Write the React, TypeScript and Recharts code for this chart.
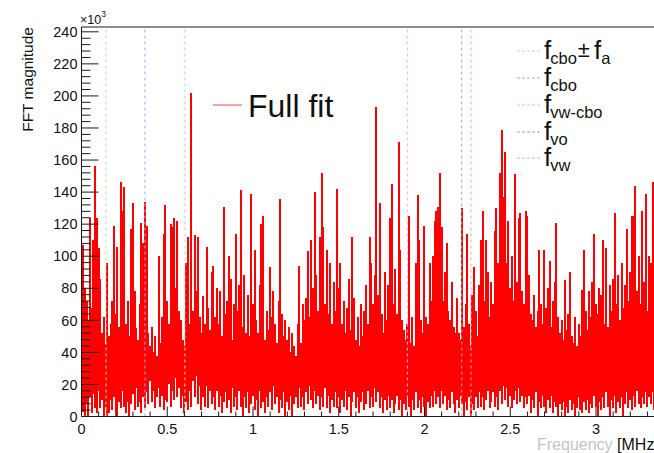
import React from 'react';
import { ComposedChart, Bar, XAxis, YAxis, ReferenceLine } from 'recharts';

// FFT magnitude (x10^3): per 0.01 MHz column, upper and lower extent of the trace
const HI = [
  88, 107, 80, 72, 60, 124, 68, 110, 156, 124,
  105, 86, 52, 62, 45, 96, 50, 58, 72, 119,
  64, 106, 56, 146, 128, 143, 58, 72, 50, 117,
  133, 78, 55, 48, 70, 121, 108, 134, 119, 52,
  44, 56, 40, 50, 38, 100, 46, 62, 114, 132,
  72, 58, 120, 118, 124, 80, 122, 66, 60, 48,
  44, 96, 112, 58, 202, 66, 113, 78, 112, 62,
  52, 75, 58, 106, 68, 54, 90, 94, 62, 80,
  58, 78, 50, 131, 64, 72, 100, 86, 48, 70,
  114, 66, 82, 141, 56, 88, 52, 76, 50, 139,
  70, 104, 60, 52, 82, 120, 125, 48, 66, 54,
  93, 62, 78, 58, 46, 72, 136, 64, 50, 60,
  48, 56, 40, 52, 44, 38, 58, 94, 46, 70,
  60, 74, 103, 62, 110, 80, 140, 88, 66, 112,
  152, 118, 70, 104, 64, 96, 58, 84, 66, 142,
  80, 96, 58, 72, 52, 68, 86, 54, 112, 74,
  48, 62, 44, 70, 50, 66, 82, 58, 112, 96,
  70, 88, 193, 76, 133, 64, 52, 90, 60, 82,
  124, 145, 70, 92, 64, 171, 104, 60, 54, 48,
  58, 125, 46, 62, 44, 96, 138, 110, 60, 52,
  119, 62, 58, 96, 72, 100, 122, 128, 131, 152,
  118, 72, 90, 108, 66, 60, 84, 56, 52, 74,
  52, 48, 130, 56, 70, 114, 58, 44, 76, 93,
  66, 50, 82, 110, 128, 72, 110, 90, 62, 84,
  70, 116, 130, 96, 152, 179, 137, 165, 96, 122,
  80, 100, 72, 151, 84, 124, 127, 78, 70, 128,
  125, 88, 64, 60, 76, 56, 66, 104, 70, 58,
  104, 68, 80, 97, 56, 72, 84, 121, 62, 52,
  60, 48, 85, 54, 64, 90, 50, 46, 62, 44,
  58, 50, 79, 104, 66, 54, 78, 62, 84, 114,
  70, 64, 80, 76, 110, 58, 105, 56, 82, 66,
  86, 127, 70, 88, 60, 96, 68, 82, 117, 72,
  90, 125, 125, 144, 78, 100, 70, 128, 84, 139,
  66, 100, 96, 146, 80, 92, 72, 88, 70, 84,
];

const LO = [
  0, 3, 0, 8, 0, 12, 2, 14, 5, 2,
  16, 5, 10, 0, 6, 0, 2, 10, 4, 12,
  3, 0, 9, 5, 16, 6, 2, 9, 0, 8,
  14, 4, 18, 6, 9, 2, 12, 5, 15, 8,
  22, 9, 16, 5, 12, 18, 6, 13, 4, 10,
  9, 20, 6, 16, 10, 24, 12, 18, 5, 13,
  2, 9, 4, 16, 6, 22, 12, 25, 8, 19,
  4, 12, 6, 19, 5, 16, 8, 12, 4, 16,
  6, 13, 2, 9, 15, 5, 10, 2, 18, 6,
  12, 4, 16, 6, 0, 12, 5, 15, 2, 8,
  13, 4, 10, 0, 16, 5, 9, 2, 12, 6,
  15, 4, 19, 8, 12, 2, 10, 5, 15, 0,
  9, 4, 13, 0, 8, 12, 5, 18, 6, 12,
  4, 15, 8, 19, 10, 5, 16, 8, 13, 4,
  12, 6, 18, 5, 13, 2, 10, 6, 15, 5,
  12, 2, 10, 6, 16, 4, 12, 0, 9, 15,
  5, 12, 2, 9, 15, 4, 8, 16, 5, 12,
  6, 18, 9, 15, 5, 12, 2, 10, 4, 13,
  5, 10, 2, 8, 13, 4, 10, 0, 8, 4,
  12, 6, 0, 10, 4, 15, 5, 10, 2, 12,
  6, 0, 9, 5, 13, 6, 16, 8, 12, 5,
  16, 8, 13, 4, 10, 5, 15, 8, 2, 10,
  5, 13, 8, 0, 9, 4, 12, 0, 8, 4,
  12, 5, 15, 6, 12, 4, 10, 16, 5, 9,
  15, 6, 12, 4, 16, 8, 19, 10, 18, 6,
  13, 5, 10, 16, 8, 18, 9, 13, 5, 12,
  8, 13, 2, 10, 5, 15, 0, 9, 5, 13,
  6, 2, 10, 5, 13, 2, 9, 6, 0, 8,
  4, 9, 0, 6, 2, 10, 4, 8, 0, 5,
  12, 4, 2, 9, 4, 10, 2, 8, 5, 13,
  6, 0, 9, 4, 12, 5, 15, 6, 0, 10,
  5, 13, 2, 9, 5, 12, 0, 8, 15, 5,
  10, 4, 13, 6, 16, 8, 5, 12, 8, 15,
  6, 12, 8, 15, 4, 9, 5, 10, 6, 2,
];

const FREQ_STEP = 0.01; // MHz per column
const FREQ = HI.map((_, i) => Number((i * FREQ_STEP).toFixed(2)));

const X_TICKS = [
  0, 0.1, 0.2, 0.3, 0.4, 0.5, 0.6, 0.7, 0.8, 0.9,
  1, 1.1, 1.2, 1.3, 1.4, 1.5, 1.6, 1.7, 1.8, 1.9,
  2, 2.1, 2.2, 2.3, 2.4, 2.5, 2.6, 2.7, 2.8, 2.9,
  3, 3.1, 3.2, 3.3, 3.4,
];
const X_LABELS = [0, 0.5, 1, 1.5, 2, 2.5, 3];
const Y_TICKS = [
  0, 4, 8, 12, 16, 20, 24, 28, 32, 36, 40, 44, 48, 52, 56, 60, 64, 68, 72, 76,
  80, 84, 88, 92, 96, 100, 104, 108, 112, 116, 120, 124, 128, 132, 136, 140,
  144, 148, 152, 156, 160, 164, 168, 172, 176, 180, 184, 188, 192, 196, 200,
  204, 208, 212, 216, 220, 224, 228, 232, 236, 240,
];
const Y_LABELS = [0, 20, 40, 60, 80, 100, 120, 140, 160, 180, 200, 220, 240];

// marker frequencies (MHz)
const MARKER_FREQ = [0.143, 0.603, 0.37, 1.9, 2.217, 2.271];
const MARKER_COLOR = ['#a8e6a8', '#a8e6a8', '#a4a4ff', '#ffa8ff', '#a4a4a4', '#ffa6a6'];

const LEGEND_COLORS = ['#a8e6a8', '#a4a4ff', '#ffa8ff', '#a4a4a4', '#ffa6a6'];
const LEGEND_SUBS = ['cbo', 'cbo', 'vw-cbo', 'vo', 'vw'];

const DATA = FREQ.map((f, i) => ({ f, range: [LO[i], HI[i]] }));

const FONT = "'Liberation Sans', Arial, Helvetica, sans-serif";
const PLOT_LEFT = 81.5;
const PLOT_BOTTOM = 416.5;
const AXIS_COLOR = '#1a1a1a';
const COLUMN_WIDTH = 2;

// draw each column centred on its frequency, pixel-snapped so neighbours join solidly
const Column = (props: any) => {
  const { x, y, width, height } = props;
  if (height == null || isNaN(height)) return null;
  const cx = x + (width || 0) / 2;
  return (
    <rect
      x={cx - COLUMN_WIDTH / 2}
      y={y}
      width={COLUMN_WIDTH}
      height={Math.max(height, 0.5)}
      fill="#ff0000"
      shapeRendering="crispEdges"
    />
  );
};

const XTick = (props: any) => {
  const { x, payload } = props;
  const v = payload.value as number;
  const major = Math.abs(v * 2 - Math.round(v * 2)) < 1e-6;
  const isLabel = X_LABELS.some((l) => Math.abs(l - v) < 1e-6);
  return (
    <g>
      <line x1={x} x2={x} y1={PLOT_BOTTOM} y2={PLOT_BOTTOM - (major ? 10 : 5)} stroke={AXIS_COLOR} strokeWidth={1} />
      {isLabel && (
        <text x={x} y={433.5} textAnchor="middle" fontFamily={FONT} fontSize={14.5} fill="#111">
          {String(v)}
        </text>
      )}
    </g>
  );
};

const YTick = (props: any) => {
  const { y, payload } = props;
  const v = payload.value as number;
  const isLabel = Y_LABELS.includes(v);
  return (
    <g>
      <line x1={PLOT_LEFT} x2={PLOT_LEFT + (isLabel ? 17 : 9)} y1={y} y2={y} stroke={AXIS_COLOR} strokeWidth={1} />
      {isLabel && (
        <text x={77.5} y={y} dy="0.36em" textAnchor="end" fontFamily={FONT} fontSize={14.5} fill="#111">
          {String(v)}
        </text>
      )}
    </g>
  );
};

const LEG_Y = [51, 78, 105, 132, 158];

export default function App() {
  return (
    <div
      style={{
        position: 'absolute',
        left: 0,
        top: 0,
        width: 654,
        height: 453,
        overflow: 'hidden',
        background: '#fff',
      }}
    >
      <ComposedChart
        width={665}
        height={453}
        data={DATA}
        margin={{ top: 27, right: 0.4, bottom: 6.5, left: 0.5 }}
      >
        <Bar dataKey="range" fill="#ff0000" barSize={2} shape={Column} isAnimationActive={false} />
        {MARKER_FREQ.map((m, i) => (
          <ReferenceLine key={i} x={m} stroke={MARKER_COLOR[i]} strokeWidth={1} strokeDasharray="3 3" />
        ))}
        <ReferenceLine y={243} stroke={AXIS_COLOR} strokeWidth={1} />
        <XAxis
          type="number"
          dataKey="f"
          domain={[0, 3.4]}
          ticks={X_TICKS}
          interval={0}
          height={30}
          tickLine={false}
          axisLine={{ stroke: AXIS_COLOR }}
          tick={XTick}
          allowDataOverflow
        />
        <YAxis
          type="number"
          domain={[0, 243]}
          ticks={Y_TICKS}
          interval={0}
          width={81}
          tickLine={false}
          axisLine={{ stroke: AXIS_COLOR }}
          tick={YTick}
          allowDataOverflow
        />
      </ComposedChart>
      <svg
        width={654}
        height={453}
        style={{ position: 'absolute', left: 0, top: 0, pointerEvents: 'none' }}
      >
        {/* y title */}
        <text
          x={33}
          y={27}
          transform="rotate(-90, 33, 27)"
          textAnchor="end"
          fontFamily={FONT}
          fontSize={15.5}
          fill="#111"
        >
          FFT magnitude
        </text>
        {/* exponent */}
        <text x={80} y={24} fontFamily={FONT} fontSize={12.5} fill="#111">
          ×10
          <tspan fontSize={8.5} dy={-7}>3</tspan>
        </text>
        {/* x title */}
        <text x={537} y={450} fontFamily={FONT} fontSize={16} fill="#111">
          <tspan fill="#c4c4c4">Frequency </tspan>
          [MHz]
        </text>
        {/* Full fit legend */}
        <line x1={213} x2={242} y1={105} y2={105} stroke="#ff4040" strokeWidth={1} />
        <text x={248} y={117} fontFamily={FONT} fontSize={32} fill="#111">
          Full fit
        </text>
        {/* marker legend */}
        {LEGEND_SUBS.map((s, i) => (
          <g key={i}>
            <line
              x1={517}
              x2={540}
              y1={LEG_Y[i]}
              y2={LEG_Y[i]}
              stroke={LEGEND_COLORS[i]}
              strokeWidth={1}
              strokeDasharray="3 2"
            />
            <text x={544} y={LEG_Y[i] + 8} fontFamily={FONT} fontSize={26} fill="#111">
              f
              <tspan dx={-1} dy={5} fontSize={16.5}>{s}</tspan>
              {i === 0 && (
                <>
                  <tspan dx={1} dy={-7} fontSize={22}>±</tspan>
                  <tspan dx={4} dy={2} fontSize={26}>f</tspan>
                  <tspan dx={0} dy={5} fontSize={16.5}>a</tspan>
                </>
              )}
            </text>
          </g>
        ))}
      </svg>
    </div>
  );
}
